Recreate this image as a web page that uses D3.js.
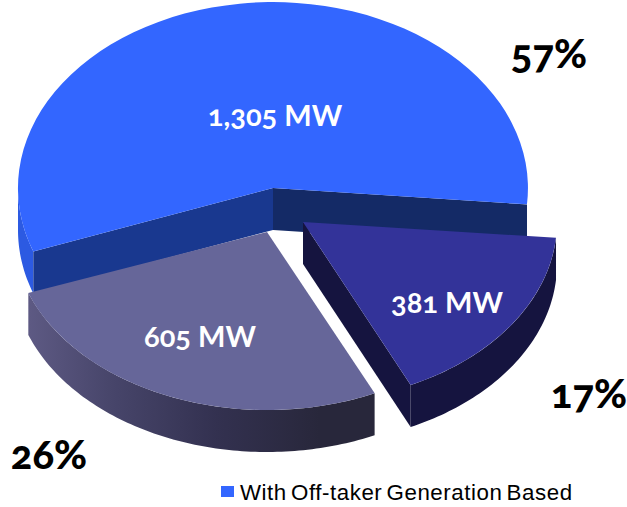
<!DOCTYPE html>
<html>
<head>
<meta charset="utf-8">
<script src="https://cdn.jsdelivr.net/npm/d3@7/dist/d3.min.js"></script>
<style>
  html, body { margin: 0; padding: 0; background: #fff; }
  svg { display: block; }
  .num { font-family: "Lato", "Open Sans", sans-serif; font-feature-settings: "onum" 1; }
</style>
</head>
<body>
<svg id="chart" width="627" height="507"></svg>
<script>
// Generation capacity by slice, in the order the pie runs clockwise.
const sliceNames = ["Blue", "Indigo", "Slate"];
const capacityMW = [1305, 381, 605];
const legendLabels = ["With Off-taker Generation Based"];

// Drawing geometry for each slice of the tilted pie.
const DEPTH = 42;
const TAU = Math.PI * 2, deg = d => d * Math.PI / 180;
const geometry = {
  Blue:   { cx: 273, cy: 188, rx: 255, ry: 186, top: "#3366ff", outer: "#2c5ae2", cuts: ["#142a66", "#19388f"],
            mw: [275, 126], pct: [549, 68] },
  Indigo: { cx: 303, cy: 222, rx: 254, ry: 180, top: "#333399", outer: "#15143f", cuts: ["#15143f", "#15143f"],
            mw: [447, 313], pct: [589, 408] },
  Slate:  { cx: 267, cy: 232, rx: 254, ry: 178, top: "#666699", outer: "url(#slateWall)", cuts: [null, null],
            mw: [200, 347], pct: [49, 469] }
};

const svg = d3.select("#chart");

// Shaded wall under the front of the slate slice.
const grad = svg.append("defs").append("linearGradient")
  .attr("id", "slateWall").attr("gradientUnits", "userSpaceOnUse")
  .attr("x1", 26).attr("x2", 372).attr("y1", 0).attr("y2", 0);
grad.selectAll("stop")
  .data([[0, "#5e5a84"], [0.25, "#47456a"], [0.55, "#333150"], [0.85, "#28273b"], [1, "#28273b"]])
  .join("stop").attr("offset", d => d[0]).attr("stop-color", d => d[1]);

const pie = d3.pie().sort(null).value(d => d.value)
  .startAngle(deg(250)).endAngle(deg(250) + TAU);
const slices = pie(sliceNames.map((name, i) => ({ name, value: capacityMW[i] })));
const total = d3.sum(capacityMW);

// Angle measured clockwise from twelve o'clock, mapped onto the slice's ellipse.
const project = (g, a, drop = 0) => [g.cx + g.rx * Math.sin(a), g.cy - g.ry * Math.cos(a) + drop];
const line = d3.line();
const unitArc = d3.arc().innerRadius(0).outerRadius(1);

function arcPoints(g, a0, a1, drop) {
  const n = Math.max(2, Math.ceil((a1 - a0) / deg(1)));
  return d3.range(n + 1).map(i => project(g, a0 + (a1 - a0) * i / n, drop));
}

// Paint order: back slice first, then the two front slices over it.
const paintOrder = ["Blue", "Slate", "Indigo"];
paintOrder.forEach(name => {
  const s = slices.find(d => d.data.name === name);
  const g = geometry[name];
  const layer = svg.append("g").attr("class", "slice");
  const centre = [g.cx, g.cy];

  // Outer rim: the blue slice only shows its wall on the lower left, the others along the whole arc.
  const r0 = s.startAngle;
  const r1 = name === "Blue" ? deg(270) : s.endAngle;
  const rim = arcPoints(g, r0, r1, 0).concat(arcPoints(g, r0, r1, DEPTH).reverse());
  layer.append("path").attr("d", line(rim) + "Z").attr("fill", g.outer);

  // Cut faces running from the apex out to each end of the arc.
  const ends = name === "Indigo" ? [s.endAngle] : [s.endAngle, s.startAngle];
  ends.forEach((a, i) => {
    const color = g.cuts[i];
    if (!color) return;
    const p = project(g, a);
    layer.append("path")
      .attr("d", line([centre, p, [p[0], p[1] + DEPTH], [centre[0], centre[1] + DEPTH]]) + "Z")
      .attr("fill", color);
  });

  // Top face: a unit arc stretched onto the ellipse.
  layer.append("path")
    .attr("d", unitArc(s))
    .attr("transform", `translate(${g.cx},${g.cy}) scale(${g.rx},${g.ry})`)
    .attr("fill", g.top);
});

// Capacity labels sit on the slices, share labels beside them.
slices.forEach(s => {
  const g = geometry[s.data.name];
  svg.append("text").attr("class", "num")
    .attr("x", g.mw[0]).attr("y", g.mw[1]).attr("text-anchor", "middle")
    .attr("font-size", 29).attr("font-weight", 700).attr("fill", "#fff")
    .text(d3.format(",")(s.data.value) + " MW");
  svg.append("text").attr("class", "num")
    .attr("x", g.pct[0]).attr("y", g.pct[1]).attr("text-anchor", "middle")
    .attr("font-size", 40).attr("font-weight", 900).attr("fill", "#000")
    .text(d3.format(".0%")(s.data.value / total));
});

// Legend
const legend = svg.append("g");
legend.append("rect").attr("x", 221).attr("y", 486).attr("width", 13).attr("height", 11).attr("fill", "#3366ff");
legend.append("text").attr("x", 240).attr("y", 500)
  .attr("font-family", "'Liberation Sans', Arial, sans-serif").attr("font-size", 22.3)
  .attr("letter-spacing", 0.55).attr("word-spacing", -2.5).attr("fill", "#000")
  .text(legendLabels[0]);
</script>
</body>
</html>
